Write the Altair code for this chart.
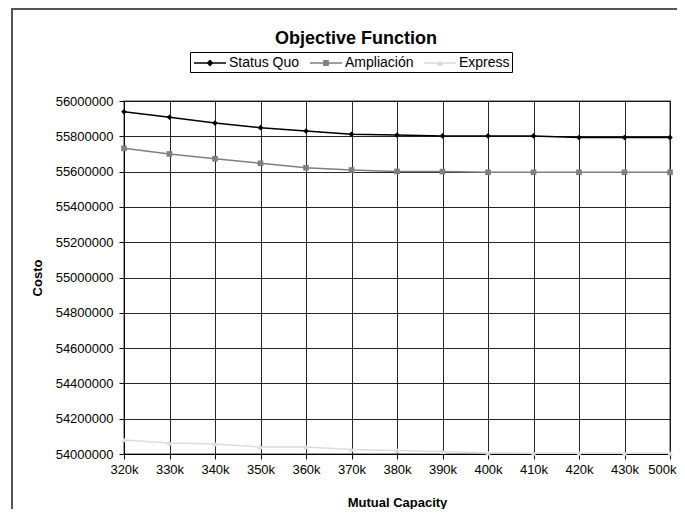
import altair as alt
import pandas as pd

caps = ["320k", "330k", "340k", "350k", "360k", "370k", "380k",
        "390k", "400k", "410k", "420k", "430k", "500k"]
status_quo = [55939000, 55908000, 55875000, 55849000, 55830000, 55811000, 55807000,
              55802000, 55802000, 55802000, 55793000, 55793000, 55793000]
ampliacion = [55732000, 55700000, 55673000, 55647000, 55622000, 55609000, 55601000,
              55600000, 55596000, 55596000, 55596000, 55596000, 55596000]
express = [54080000, 54062000, 54056000, 54040000, 54040000, 54026000, 54020000,
           54014000, 54006000, 54004000, 54004000, 54004000, 54004000]
series_names = ["Status Quo", "Ampliación", "Express"]
series_colors = ["#000000", "#7f7f7f", "#dcdcdc"]
y_ticks = [54000000 + 200000 * i for i in range(11)]

rows = []
for name, vals in zip(series_names, [status_quo, ampliacion, express]):
    for c, v in zip(caps, vals):
        rows.append({"cap": c, "series": name, "value": v})
df = pd.DataFrame(rows)

FONT = "Liberation Sans"

x_enc = alt.X("cap:O", sort=caps, scale=alt.Scale(type="point", padding=0),
              axis=alt.Axis(title="Mutual Capacity", labelAngle=0, grid=True,
                            gridColor="#000000", gridOpacity=0.85, domainColor="#000000",
                            tickColor="#000000", tickSize=5, labelPadding=4,
                            labelAlign={"condition": {"test": "datum.value == '500k'", "value": "right"},
                                        "value": "center"},
                            labelOffset={"condition": {"test": "datum.value == '500k'", "value": 6},
                                         "value": 0},
                            labelFontSize=13, labelFont=FONT, labelColor="#000000",
                            titleFont=FONT, titleFontSize=13, titleFontWeight="bold",
                            titlePadding=20, titleColor="#000000"))
y_enc = alt.Y("value:Q", scale=alt.Scale(domain=[54000000, 56000000], nice=False, zero=False),
              axis=alt.Axis(title="Costo", values=y_ticks, format="d", grid=True,
                            gridColor="#000000", gridOpacity=0.85, domainColor="#000000",
                            tickColor="#000000", tickSize=5, labelPadding=6,
                            labelFontSize=13, labelFont=FONT, labelColor="#000000",
                            titleFont=FONT, titleFontSize=13, titleFontWeight="bold",
                            titlePadding=11, titleColor="#000000"))

color_scale = alt.Scale(domain=series_names, range=series_colors)

lines = alt.Chart(df).mark_line(strokeWidth=1.5).encode(
    x=x_enc, y=y_enc,
    color=alt.Color("series:N", scale=color_scale, legend=None),
    detail="series:N",
)

points = alt.Chart(df).mark_point(filled=True, size=32, opacity=1).encode(
    x=x_enc, y=y_enc,
    color=alt.Color("series:N", scale=color_scale, legend=None),
    shape=alt.Shape("series:N", scale=alt.Scale(domain=series_names,
                                                range=["diamond", "square", "triangle-up"]),
                    legend=None),
)

legend_shapes = [
    "M-2,-0.09H2V0.09H-2Z M0,-0.44L0.44,0L0,0.44L-0.44,0Z",
    "M-2,-0.09H2V0.09H-2Z M-0.36,-0.36H0.36V0.36H-0.36Z",
    "M-2,-0.09H2V0.09H-2Z M0,-0.42L0.42,0.34H-0.42Z",
]

legend_layer = alt.Chart(df).mark_point(filled=True, size=0, opacity=1).encode(
    x=x_enc, y=y_enc,
    color=alt.Color("series:N", scale=color_scale,
                    legend=alt.Legend(title=None, orient="none", legendX=66, legendY=-49,
                                      direction="horizontal", strokeColor="#000000",
                                      padding=2, symbolSize=256, symbolOpacity=1,
                                      symbolOffset=9,
                                      labelFont=FONT, labelFontSize=14, labelColor="#000000",
                                      columnPadding=7, labelOffset=10)),
    shape=alt.Shape("series:N", scale=alt.Scale(domain=series_names, range=legend_shapes)),
)

# outer chart-area frame (left and top edges; right and bottom fall outside the picture)
frame_data = alt.Data(values=[{"k": 1}])
frame_top = alt.Chart(frame_data).mark_rect(fill="#555555", strokeWidth=0, clip=False).encode(
    x=alt.value(-113), x2=alt.value(553), y=alt.value(-93), y2=alt.value(-91))
frame_left = alt.Chart(frame_data).mark_rect(fill="#555555", strokeWidth=0, clip=False).encode(
    x=alt.value(-113), x2=alt.value(-111), y=alt.value(-93), y2=alt.value(410))

chart = alt.layer(frame_top, frame_left, lines, points, legend_layer).resolve_scale(
    color="independent", shape="independent"
).properties(
    width=546, height=353,
    title=alt.TitleParams("Objective Function", font=FONT, fontSize=18, fontWeight="bold",
                          anchor="middle", offset=0, dy=40, dx=-41, color="#000000"),
    autosize=alt.AutoSizeParams(type="none"),
    padding={"left": 116, "top": 93, "right": 7, "bottom": 55},
).configure_view(stroke="#808080", strokeWidth=1.5)

chart.save("out.html", embed_options={"renderer": "svg", "actions": False})
